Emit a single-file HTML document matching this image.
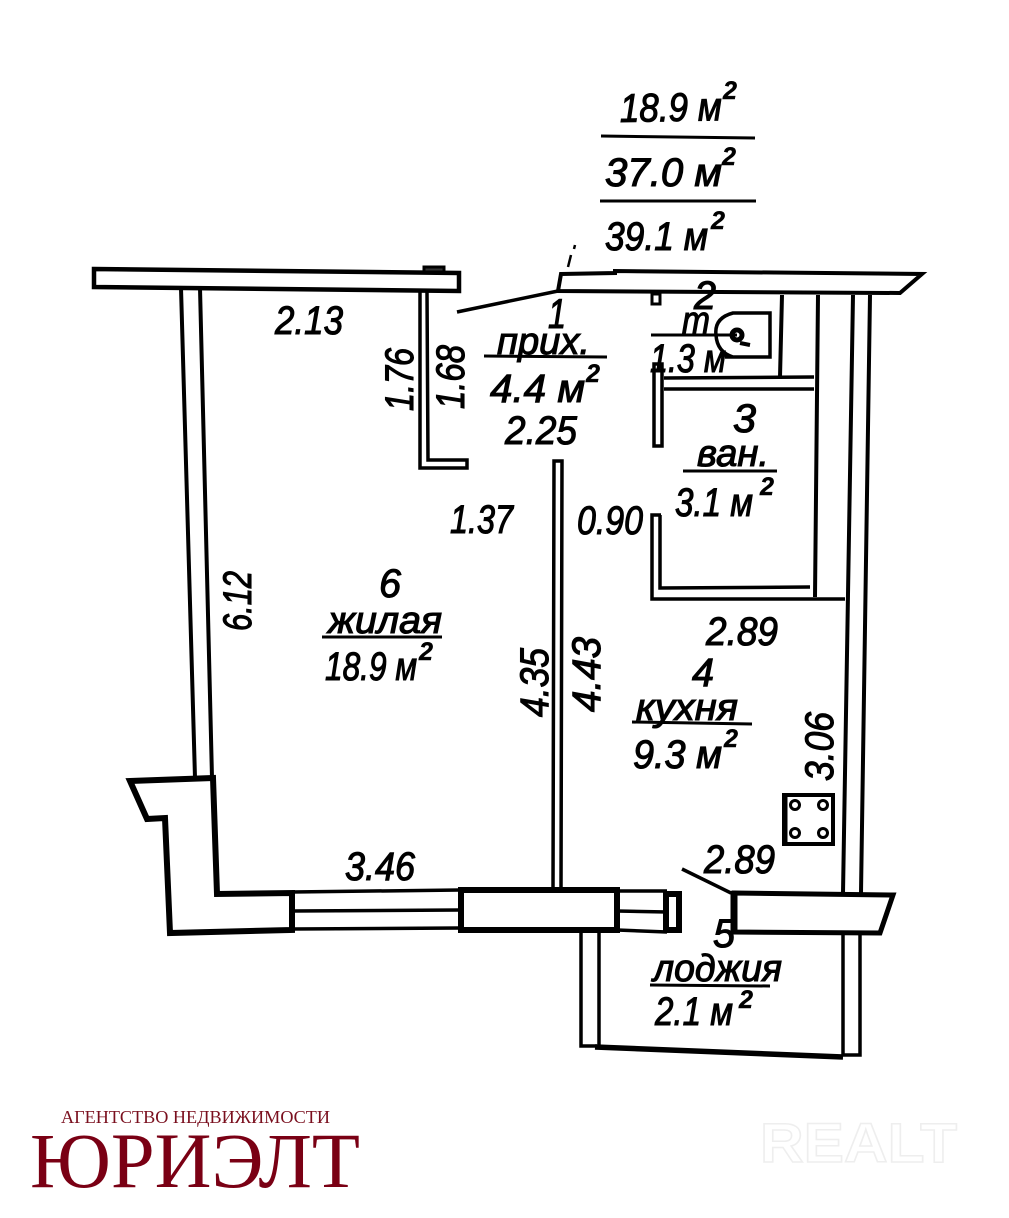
<!DOCTYPE html>
<html><head><meta charset="utf-8"><style>
html,body{margin:0;padding:0;background:#fff}
svg{display:block}
.t{font-family:"Liberation Sans","DejaVu Sans",sans-serif;font-style:italic;font-size:40px;fill:#000;stroke:#000;stroke-width:1.1}
.s{font-size:25px;font-weight:bold;stroke-width:.5}
.l{font-size:38px}
</style></head><body>
<svg width="1009" height="1218" viewBox="0 0 1009 1218" xmlns="http://www.w3.org/2000/svg">
<rect width="1009" height="1218" fill="#fff"/>
<g fill="none" stroke="#000" stroke-width="4" stroke-linejoin="miter">
<!-- top slabs -->
<polygon points="94,269 459,273 459,291 94,287" stroke-width="4.5" fill="#fff"/>
<rect x="424" y="267" width="20" height="5" stroke-width="3" fill="#333"/>
<polygon points="561,274 615,273 615,271 922,274 900,293 558,291" stroke-width="4" fill="#fff"/>
<rect x="652" y="294" width="8" height="10" stroke-width="3"/>
<path d="M457,312 L558,291" stroke-width="3.5"/>
<path d="M575,245 L574,249 M571,255 L568,267" stroke-width="2.5"/>
<!-- left wall -->
<path d="M181,288 L195,778 M200,288 L212,778" stroke-width="4"/>
<path d="M130,781 L213,778 L217,894 L292,893 L292,930 L170,933 L165,818 L147,819 Z" stroke-width="6"/>
<!-- partition -->
<path d="M420,292 V468 H467 V460 H428 L427,292" stroke-width="3.5"/>
<!-- window -->
<path d="M292,892 L460,890 M292,911 L460,910 M292,929 L460,928" stroke-width="3.5"/>
<rect x="461" y="890" width="156" height="40" stroke-width="6"/>
<path d="M617,891 L667,891 M617,911 L667,912 M617,930 L667,932" stroke-width="3.5"/>
<rect x="666" y="894" width="13" height="36" stroke-width="6" fill="#fff"/>
<path d="M682,869 L731,893" stroke-width="3.5"/>
<polygon points="734,893 893,895 880,933 734,932" stroke-width="5" fill="#fff"/>
<path d="M734,891 V933" stroke-width="7"/>
<!-- loggia -->
<path d="M581,932 V1046 H597 M599,932 V1048 M843,935 V1055 M860,935 V1055 H842" stroke-width="3.5"/>
<path d="M595,1047 L843,1057" stroke-width="5.5"/>
<!-- right wall -->
<path d="M853,295 L843,893 M870,295 L861,893" stroke-width="4"/>
<path d="M782,295 L780,377 M818,295 L815,597" stroke-width="4"/>
<path d="M664,378 L814,377 M664,389 L814,389" stroke-width="3.5"/>
<rect x="654" y="364" width="8" height="82" stroke-width="3.5"/>
<path d="M661,515 H652 V599 H845 M660,515 V588 L810,587" stroke-width="3.5"/>
<!-- central wall -->
<path d="M553,890 L554,461 H562 L561,890" stroke-width="3.5"/>
<!-- toilet -->
<path d="M725,357 H770 V313 H733 Q714,318 716,335 Q717,352 733,357" stroke-width="3.5"/>
<circle cx="737" cy="335" r="5" stroke-width="5"/>
<path d="M740,343 L750,345" stroke-width="4"/>
<!-- stove -->
<rect x="784" y="795" width="49" height="49" stroke-width="4"/>
<path d="M785,795 V845" stroke-width="5"/>
<circle cx="795" cy="805" r="4.5" stroke-width="3"/><circle cx="823" cy="805" r="4.5" stroke-width="3"/>
<circle cx="795" cy="833" r="4.5" stroke-width="3"/><circle cx="823" cy="833" r="4.5" stroke-width="3"/>
<!-- underlines -->
<path d="M601,136 L755,138 M600,201 L756,201 M484,356 L607,357 M651,335 L737,335 M683,471 H777 M322,637 H442 M632,722 L752,724 M650,985 L770,986" stroke-width="3"/>
</g>
<!-- labels -->
<g class="t">
<text transform="rotate(-1 620 122)" x="620" y="122" textLength="102" lengthAdjust="spacingAndGlyphs">18.9 м</text>
<text class="s" x="723" y="99">2</text>
<text x="605" y="186" textLength="117" lengthAdjust="spacingAndGlyphs">37.0 м</text>
<text class="s" x="722" y="165">2</text>
<text x="605" y="250" textLength="103" lengthAdjust="spacingAndGlyphs">39.1 м</text>
<text class="s" x="711" y="229">2</text>
<text x="275" y="334" textLength="68" lengthAdjust="spacingAndGlyphs">2.13</text>
<text transform="translate(413,411) rotate(-90)" textLength="63" lengthAdjust="spacingAndGlyphs">1.76</text>
<text transform="translate(464,409) rotate(-90)" textLength="64" lengthAdjust="spacingAndGlyphs">1.68</text>
<text x="548" y="328" textLength="18" lengthAdjust="spacingAndGlyphs" font-size="42" style="font-size:42px">1</text>
<text class="l" x="497" y="354" textLength="93" lengthAdjust="spacingAndGlyphs">прих.</text>
<text x="490" y="402" textLength="95" lengthAdjust="spacingAndGlyphs">4.4 м</text>
<text class="s" x="586" y="382">2</text>
<text x="505" y="444" textLength="72" lengthAdjust="spacingAndGlyphs">2.25</text>
<text x="694" y="309" textLength="22" lengthAdjust="spacingAndGlyphs">2</text>
<text class="l" x="682" y="333" textLength="28" lengthAdjust="spacingAndGlyphs">т</text>
<text x="650" y="372" textLength="76" lengthAdjust="spacingAndGlyphs">1.3 м</text>
<text x="733" y="432" textLength="23" lengthAdjust="spacingAndGlyphs">3</text>
<text class="l" x="697" y="466" textLength="72" lengthAdjust="spacingAndGlyphs">ван.</text>
<text x="675" y="516" textLength="78" lengthAdjust="spacingAndGlyphs">3.1 м</text>
<text class="s" x="760" y="495">2</text>
<text x="577" y="534" textLength="66" lengthAdjust="spacingAndGlyphs">0.90</text>
<text x="450" y="533" textLength="63" lengthAdjust="spacingAndGlyphs">1.37</text>
<text x="379" y="597" textLength="22" lengthAdjust="spacingAndGlyphs">6</text>
<text class="l" x="328" y="633" textLength="114" lengthAdjust="spacingAndGlyphs">жилая</text>
<text x="325" y="680" textLength="92" lengthAdjust="spacingAndGlyphs">18.9 м</text>
<text class="s" x="419" y="660">2</text>
<text transform="translate(251,631) rotate(-90)" textLength="60" lengthAdjust="spacingAndGlyphs">6.12</text>
<text transform="translate(548,717) rotate(-90)" textLength="69" lengthAdjust="spacingAndGlyphs">4.35</text>
<text transform="translate(600,712) rotate(-90)" textLength="75" lengthAdjust="spacingAndGlyphs">4.43</text>
<text x="706" y="645" textLength="72" lengthAdjust="spacingAndGlyphs">2.89</text>
<text x="692" y="686" textLength="22" lengthAdjust="spacingAndGlyphs">4</text>
<text class="l" x="636" y="720" textLength="102" lengthAdjust="spacingAndGlyphs">кухня</text>
<text x="633" y="768" textLength="89" lengthAdjust="spacingAndGlyphs">9.3 м</text>
<text class="s" x="724" y="747">2</text>
<text transform="translate(833,781) rotate(-90)" textLength="69" lengthAdjust="spacingAndGlyphs">3.06</text>
<text x="345" y="880" textLength="70" lengthAdjust="spacingAndGlyphs">3.46</text>
<text x="704" y="873" textLength="71" lengthAdjust="spacingAndGlyphs">2.89</text>
<text x="713" y="947" textLength="22" lengthAdjust="spacingAndGlyphs">5</text>
<text class="l" x="653" y="981" textLength="129" lengthAdjust="spacingAndGlyphs">лоджия</text>
<text x="655" y="1025" textLength="78" lengthAdjust="spacingAndGlyphs">2.1 м</text>
<text class="s" x="739" y="1008">2</text>
</g>
<!-- logo -->
<text x="61" y="1123" textLength="269" lengthAdjust="spacingAndGlyphs" font-family="'Liberation Serif',serif" font-size="18" fill="#7a0f1e">АГЕНТСТВО НЕДВИЖИМОСТИ</text>
<text x="30" y="1187" textLength="330" lengthAdjust="spacingAndGlyphs" font-family="'Liberation Serif',serif" font-size="78" fill="#7a0014">ЮРИЭЛТ</text>
<text x="760" y="1162" textLength="197" lengthAdjust="spacingAndGlyphs" font-family="'Liberation Sans',sans-serif" font-weight="bold" font-size="56" fill="#fff" stroke="#eeeeee" stroke-width="1.5">REALT</text>
</svg>
</body></html>
